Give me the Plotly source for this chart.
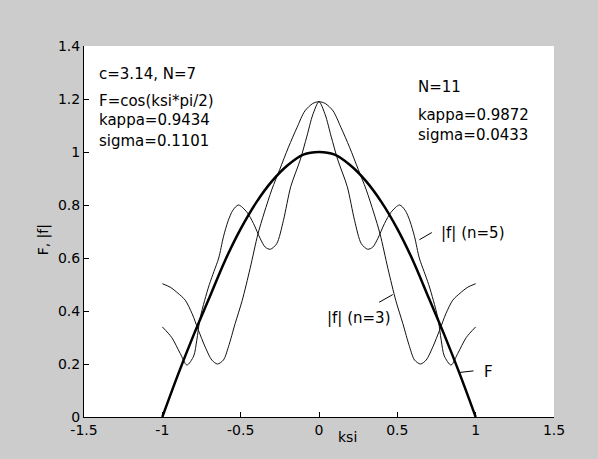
import plotly.graph_objects as go

# ---- data ----
F_x = [-1.0, -0.9, -0.8, -0.7, -0.6, -0.5, -0.4, -0.3, -0.2, -0.1, 0.0,
       0.1, 0.2, 0.3, 0.4, 0.5, 0.6, 0.7, 0.8, 0.9, 1.0]
F_y = [0.0, 0.16, 0.31, 0.45, 0.59, 0.71, 0.81, 0.89, 0.95, 0.99, 1.0,
       0.99, 0.95, 0.89, 0.81, 0.71, 0.59, 0.45, 0.31, 0.16, 0.0]

n3_x = [-1.0, -0.95, -0.9, -0.854, -0.81, -0.77, -0.727, -0.684, -0.648, -0.61, -0.578,
        -0.535, -0.49, -0.44, -0.39, -0.35, -0.30, -0.25, -0.195, -0.14, -0.09, -0.04, 0.0,
        0.04, 0.09, 0.14, 0.195, 0.25, 0.30, 0.35, 0.39, 0.44, 0.49, 0.535, 0.578, 0.61,
        0.648, 0.684, 0.727, 0.77, 0.81, 0.854, 0.9, 0.95, 1.0]
n3_y = [0.503, 0.49, 0.467, 0.441, 0.39, 0.328, 0.265, 0.215, 0.200, 0.215, 0.265,
        0.353, 0.44, 0.56, 0.69, 0.77, 0.86, 0.935, 1.018, 1.093, 1.155, 1.183, 1.19,
        1.183, 1.155, 1.093, 1.018, 0.935, 0.86, 0.77, 0.69, 0.56, 0.44, 0.353, 0.265, 0.215,
        0.200, 0.215, 0.265, 0.328, 0.39, 0.441, 0.467, 0.49, 0.503]

n5_x = [-1.0, -0.94, -0.886, -0.843, -0.80, -0.78, -0.76, -0.73, -0.70, -0.67, -0.64,
        -0.61, -0.58, -0.55, -0.514, -0.46, -0.418, -0.375, -0.343, -0.311, -0.27, -0.227,
        -0.18, -0.12, -0.077, -0.04, 0.0,
        0.04, 0.077, 0.12, 0.18, 0.227, 0.27, 0.311, 0.343, 0.375, 0.418, 0.46, 0.514,
        0.55, 0.58, 0.61, 0.64, 0.67, 0.70, 0.73, 0.76, 0.78, 0.80, 0.843, 0.886, 0.94, 1.0]
n5_y = [0.34, 0.30, 0.24, 0.196, 0.23, 0.29, 0.37, 0.44, 0.50, 0.55, 0.60,
        0.68, 0.74, 0.78, 0.80, 0.773, 0.73, 0.673, 0.641, 0.633, 0.654, 0.742,
        0.87, 0.97, 1.06, 1.14, 1.19,
        1.14, 1.06, 0.97, 0.87, 0.742, 0.654, 0.633, 0.641, 0.673, 0.73, 0.773, 0.80,
        0.78, 0.74, 0.68, 0.60, 0.55, 0.50, 0.44, 0.37, 0.29, 0.23, 0.196, 0.24, 0.30, 0.34]

x_ticks = [-1.5, -1, -0.5, 0, 0.5, 1, 1.5]
x_ticklabels = ["-1.5", "-1", "-0.5", "0", "0.5", "1", "1.5"]
y_ticks = [0, 0.2, 0.4, 0.6, 0.8, 1.0, 1.2, 1.4]
y_ticklabels = ["0", "0.2", "0.4", "0.6", "0.8", "1", "1.2", "1.4"]

left_texts = ["c=3.14, N=7", "F=cos(ksi*pi/2)", "kappa=0.9434", "sigma=0.1101"]
left_text_y = [1.296, 1.194, 1.119, 1.043]
right_texts = ["N=11", "kappa=0.9872", "sigma=0.0433"]
right_text_y = [1.244, 1.14, 1.065]

curve_labels = ["|f| (n=5)", "|f| (n=3)", "F"]
curve_label_pos = [(0.763, 0.696, "left"), (0.465, 0.372, "right"), (1.04, 0.171, "left")]
leader_lines = [((0.641, 0.669), (0.72, 0.696)),
                ((0.384, 0.433), (0.471, 0.462)),
                ((0.897, 0.168), (0.986, 0.174))]

FONT = "DejaVu Sans"

fig = go.Figure()
fig.add_trace(go.Scatter(x=n3_x, y=n3_y, mode="lines",
                         line=dict(color="#111", width=1, shape="spline", smoothing=0.8)))
fig.add_trace(go.Scatter(x=n5_x, y=n5_y, mode="lines",
                         line=dict(color="#111", width=1, shape="spline", smoothing=0.8)))
fig.add_trace(go.Scatter(x=F_x, y=F_y, mode="lines",
                         line=dict(color="black", width=2.5, shape="spline", smoothing=1)))

ann = []
for t, yy in zip(left_texts, left_text_y):
    ann.append(dict(x=-1.42, y=yy, xref="x", yref="y", text=t, showarrow=False,
                    xanchor="left", yanchor="middle", font=dict(family=FONT, size=15, color="black")))
for t, yy in zip(right_texts, right_text_y):
    ann.append(dict(x=0.62, y=yy, xref="x", yref="y", text=t, showarrow=False,
                    xanchor="left", yanchor="middle", font=dict(family=FONT, size=15, color="black")))
for t, (xx, yy, anc) in zip(curve_labels, curve_label_pos):
    ann.append(dict(x=xx, y=yy, xref="x", yref="y", text=t, showarrow=False,
                    xanchor=anc, yanchor="middle", font=dict(family=FONT, size=15, color="black")))
ann.append(dict(x=0.18, y=-0.055, xref="x", yref="paper", text="ksi", showarrow=False,
                xanchor="center", yanchor="middle", font=dict(family=FONT, size=14, color="black")))
ann.append(dict(x=-0.087, y=0.667, xref="paper", yref="y", text="F, |f|", showarrow=False,
                textangle=-90, xanchor="center", yanchor="middle",
                font=dict(family=FONT, size=14, color="black")))

shapes = []
for (p0, p1) in leader_lines:
    shapes.append(dict(type="line", xref="x", yref="y", x0=p0[0], y0=p0[1], x1=p1[0], y1=p1[1],
                       line=dict(color="black", width=1)))

fig.update_layout(
    width=598, height=459,
    margin=dict(l=84, r=44, t=46, b=42),
    paper_bgcolor="#cccccc", plot_bgcolor="white",
    showlegend=False,
    annotations=ann, shapes=shapes,
    xaxis=dict(range=[-1.5, 1.5], tickvals=x_ticks, ticktext=x_ticklabels,
               showgrid=False, zeroline=False, showline=True, linecolor="black", linewidth=1,
               ticks="inside", ticklen=5, tickcolor="black",
               tickfont=dict(family=FONT, size=14, color="black")),
    yaxis=dict(range=[0, 1.4], tickvals=y_ticks, ticktext=y_ticklabels,
               showgrid=False, zeroline=False, showline=True, linecolor="black", linewidth=1,
               ticks="inside", ticklen=5, tickcolor="black",
               tickfont=dict(family=FONT, size=14, color="black")),
)

fig.write_html("out.html",
               config={"displayModeBar": False, "staticPlot": True},
               post_script="document.body.style.margin='0';document.body.style.background='#cccccc';")
